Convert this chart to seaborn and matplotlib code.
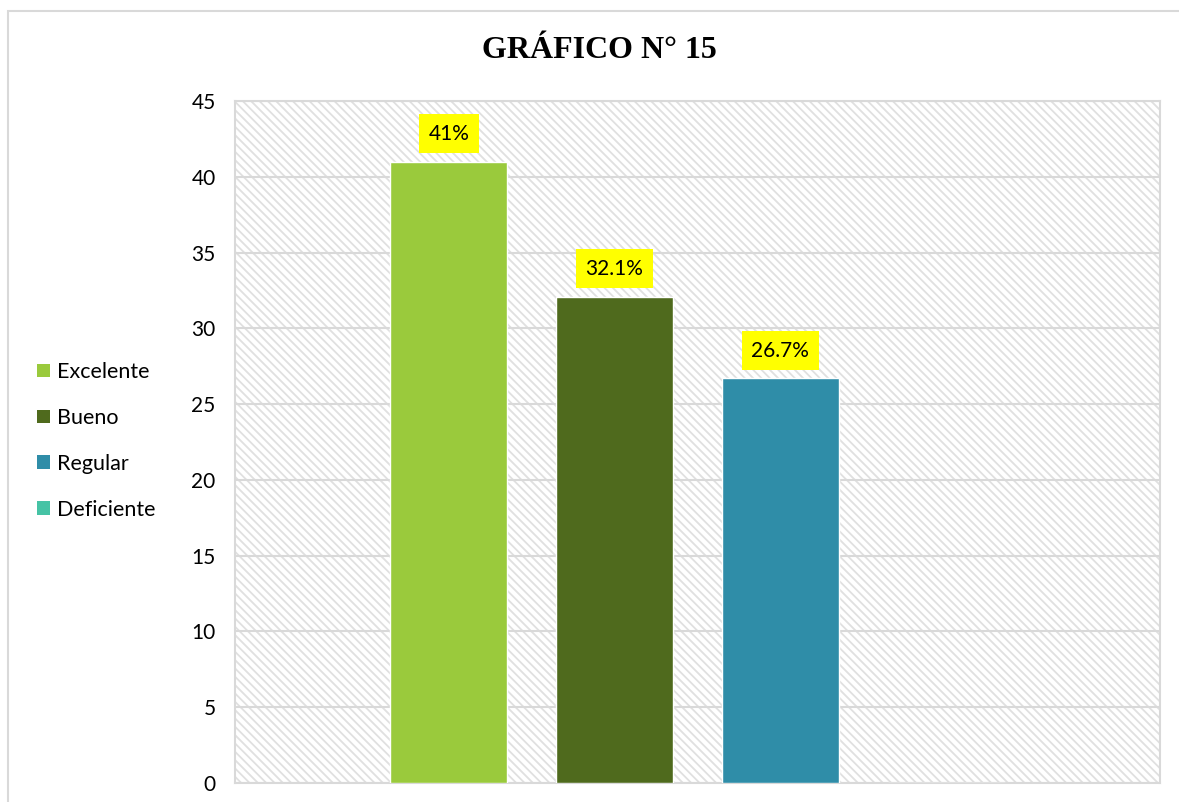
import matplotlib
matplotlib.use("Agg")
import matplotlib.pyplot as plt
import seaborn as sns
import pandas as pd
from matplotlib.patches import Patch, Rectangle

# data
categorias = ["Excelente", "Bueno", "Regular", "Deficiente"]
valores = [41.0, 32.1, 26.7, 0.0]
etiquetas = ["41%", "32.1%", "26.7%", None]
colores = ["#9ACA3C", "#4F6A1D", "#2F8DA8", "#46C3A5"]
y_ticks = [0, 5, 10, 15, 20, 25, 30, 35, 40, 45]

sns.set_theme(style="white")
plt.rcParams["font.family"] = ["Lato", "DejaVu Sans"]
plt.rcParams["hatch.color"] = "#E0E0E0"
plt.rcParams["hatch.linewidth"] = 1.3

df = pd.DataFrame({"categoria": categorias, "valor": valores})

fig = plt.figure(figsize=(11.79, 8.02), dpi=100)
ax = fig.add_axes([235 / 1179, 1 - 783 / 802, 925 / 1179, 682 / 802])

# hatched plot background
ax.add_patch(Rectangle((0, 0), 1, 1, transform=ax.transAxes, facecolor="white",
                       edgecolor="#E0E0E0", linewidth=0, hatch="\\\\\\\\", zorder=0))

sns.barplot(data=df, x="categoria", y="valor", hue="categoria", palette=colores,
            width=0.705, legend=False, ax=ax, zorder=3, saturation=1)

ax.set_xlim(-1.289, 4.289)
ax.set_ylim(0, 45)
ax.set_yticks(y_ticks)
ax.set_xticks([])
ax.set_xlabel("")
ax.set_ylabel("")
ax.tick_params(axis="y", length=0, pad=14, labelsize=15, labelcolor="black")
ax.yaxis.grid(True, color="#D9D9D9", linewidth=1.5, zorder=1)
ax.set_axisbelow(True)
for s in ax.spines.values():
    s.set_color("#D9D9D9")
    s.set_linewidth(1.5)

for i, (v, t) in enumerate(zip(valores, etiquetas)):
    if t is None:
        continue
    ax.annotate(t, xy=(i, v), xytext=(0, 20), textcoords="offset points",
                ha="center", va="center", fontsize=15, color="black", zorder=5,
                bbox=dict(boxstyle="square,pad=0.45", facecolor="#FFFF00", edgecolor="none"))

handles = [Patch(facecolor=c, edgecolor="none") for c in colores]
fig.legend(handles, categorias, loc="center left", bbox_to_anchor=(18 / 1179, 1 - 441 / 802),
           frameon=False, fontsize=15.5, labelcolor="black", handlelength=0.6,
           handleheight=0.6, handletextpad=0.3, labelspacing=1.2)

fig.text(599 / 1179, 1 - 50 / 802, "GRÁFICO N° 15", ha="center", va="center",
         fontsize=23, fontweight="bold", color="black",
         family=["Liberation Serif", "DejaVu Serif"])

# outer chart frame
fig.patches.append(Rectangle((8 / 1179, -0.05), 1.1, 1 - 11 / 802 + 0.05,
                             transform=fig.transFigure, fill=False,
                             edgecolor="#D9D9D9", linewidth=1.5))

fig.savefig("out.png", dpi=100)
